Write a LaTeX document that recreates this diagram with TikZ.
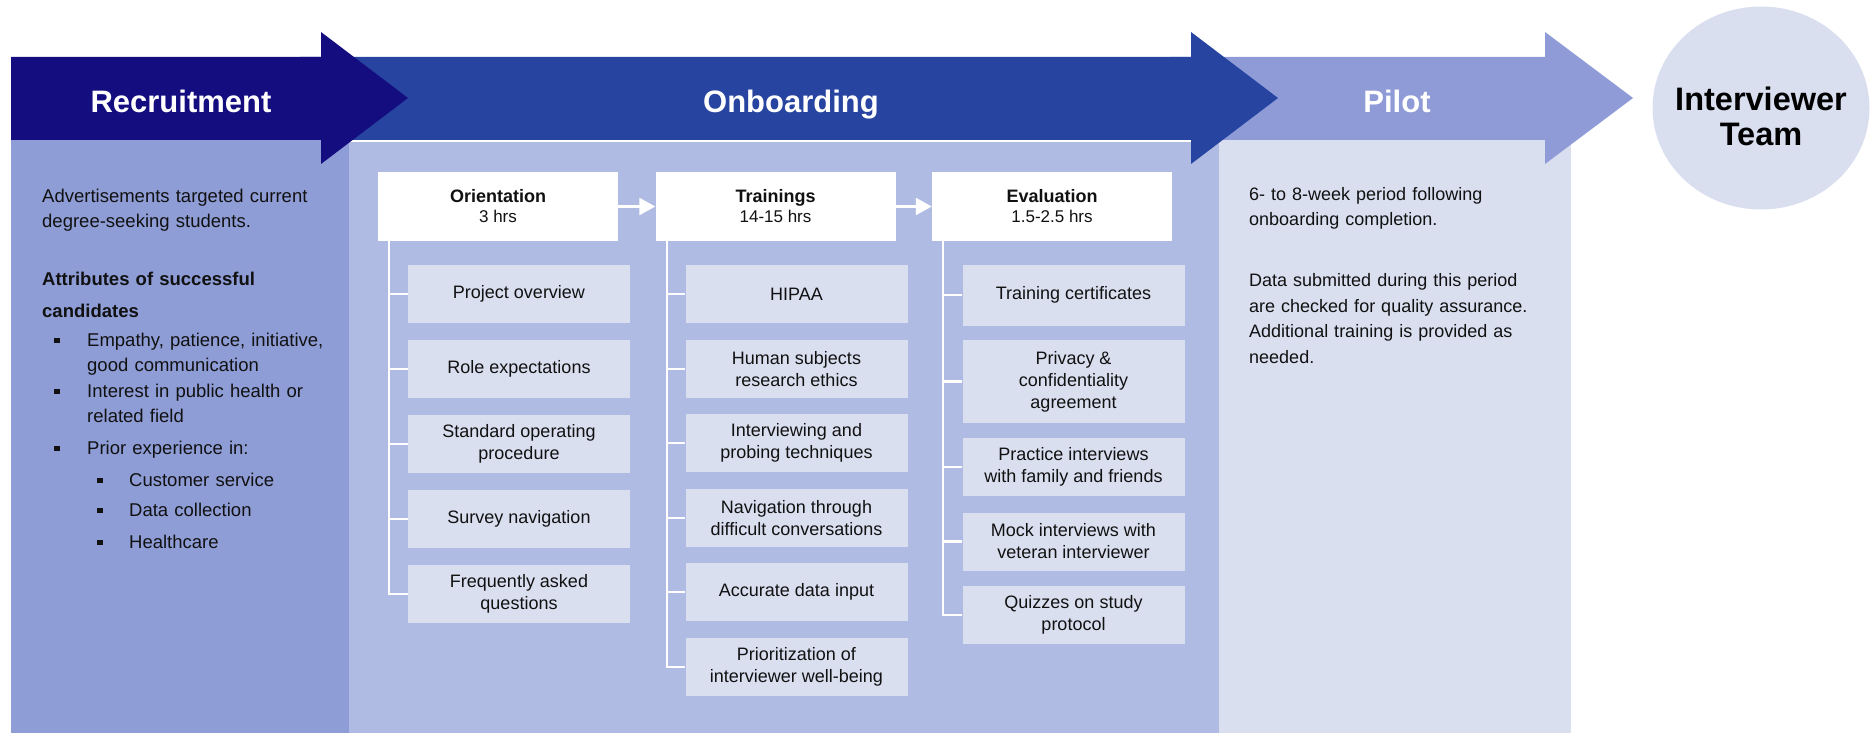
\documentclass[tikz,border=0pt]{standalone}
\usepackage{fontspec}
\setmainfont{Liberation Sans}
\usetikzlibrary{shapes.geometric,arrows.meta}
\definecolor{cRecBand}{RGB}{20,13,128}
\definecolor{cOnbBand}{RGB}{39,68,160}
\definecolor{cPilBand}{RGB}{143,155,214}
\definecolor{cRecPanel}{RGB}{143,157,215}
\definecolor{cOnbPanel}{RGB}{175,187,226}
\definecolor{cLite}{RGB}{218,223,240}
\definecolor{cText}{RGB}{17,17,17}
\newcommand{\fsz}[2]{\fontsize{#1}{#2}\selectfont}
\newcommand{\bul}{\rule[3pt]{5.5pt}{5.5pt}}
\begin{document}
\begin{tikzpicture}[x=1pt,y=-1pt,
  phase/.style={font=\fsz{31}{36}\bfseries, text=white, anchor=base, inner sep=0},
  hdr/.style={fill=white, minimum width=240pt, minimum height=69pt, inner sep=0, align=center, font=\fsz{18}{20}, text=cText},
  subbox/.style={fill=cLite, minimum width=222pt, minimum height=58pt, inner sep=0, align=center, font=\fsz{18}{22}, text=cText},
  conn/.style={draw=white, line width=2.2pt},
  harrow/.style={draw=white, line width=2.5pt, -{Triangle[length=16pt,width=17pt]}},
  body/.style={anchor=north west, inner sep=0, align=left, text=cText}
]
\useasboundingbox (0,0) rectangle (1871,733);
% panels
\fill[cRecPanel] (11,139) rectangle (349,733);
\fill[cOnbPanel] (349,142) rectangle (1219,733);
\fill[cLite] (1219,139) rectangle (1571,733);
% bands
\fill[cPilBand] (1170,57) -- (1545,57) -- (1545,32) -- (1633,98) -- (1545,164) -- (1545,140) -- (1170,140) -- cycle;
\fill[cOnbBand] (300,57) -- (1191,57) -- (1191,32) -- (1278,98) -- (1191,164) -- (1191,140) -- (300,140) -- cycle;
\fill[cRecBand] (11,57) -- (321,57) -- (321,32) -- (408,98) -- (321,164) -- (321,140) -- (11,140) -- cycle;
\node[phase] (recT) at (181,113) {Recruitment};
\node[phase] (onbT) at (791,113) {Onboarding};
\node[phase] (pilT) at (1397,113) {Pilot};
% team
\node[ellipse, fill=cLite, minimum width=217pt, minimum height=203pt, inner sep=0] (team) at (1761,108) {};
\node[font=\fsz{32.5}{35}\bfseries, text=black, align=center, inner sep=0] (teamT) at ([yshift=-8pt]team.center) {Interviewer\\Team};
% headers
\node[hdr] (ori) at (498,206.5) {{\bfseries Orientation}\\{\fsz{17}{20}3 hrs}};
\node[hdr] (tra) at (775.5,206.5) {{\bfseries Trainings}\\{\fsz{17}{20}14-15 hrs}};
\node[hdr] (eva) at (1052,206.5) {{\bfseries Evaluation}\\{\fsz{17}{20}1.5-2.5 hrs}};
\draw[harrow] (ori.east) -- (tra.west);
\draw[harrow] (tra.east) -- (eva.west);
% orientation items
\node[subbox] (o1) at (519,294) {Project overview};
\node[subbox] (o2) at (519,369) {Role expectations};
\node[subbox] (o3) at (519,444) {Standard operating\\procedure};
\node[subbox] (o4) at (519,519) {Survey navigation};
\node[subbox] (o5) at (519,594) {Frequently asked\\questions};
% trainings items
\node[subbox] (t1) at (796.5,294) {HIPAA};
\node[subbox] (t2) at (796.5,369) {Human subjects\\research ethics};
\node[subbox] (t3) at (796.5,443) {Interviewing and\\probing techniques};
\node[subbox] (t4) at (796.5,518) {Navigation through\\difficult conversations};
\node[subbox] (t5) at (796.5,592) {Accurate data input};
\node[subbox] (t6) at (796.5,667) {Prioritization of\\interviewer well-being};
% evaluation items
\node[subbox, minimum height=61pt] (e1) at (1073.5,295) {Training certificates};
\node[subbox, minimum height=83pt] (e2) at (1073.5,381.5) {Privacy \&\\confidentiality\\agreement};
\node[subbox] (e3) at (1073.5,467) {Practice interviews\\with family and friends};
\node[subbox] (e4) at (1073.5,541.5) {Mock interviews with\\veteran interviewer};
\node[subbox] (e5) at (1073.5,615) {Quizzes on study\\protocol};
% connectors
\foreach \c in {o1,o2,o3,o4,o5} \draw[conn] ([xshift=11pt]ori.south west) |- (\c.west);
\foreach \c in {t1,t2,t3,t4,t5,t6} \draw[conn] ([xshift=12pt]tra.south west) |- (\c.west);
\foreach \c in {e1,e2,e3,e4,e5} \draw[conn] ([xshift=11pt]eva.south west) |- (\c.west);
% recruitment text
\node[body, text width=310pt, font=\fsz{18.5}{25}] (recTxt) at (42,184.5) {%
\strut Advertisements targeted current\\
degree-seeking students.\\[33pt]
\textbf{Attributes of successful}\\[7pt]
\textbf{candidates}\\[4pt]
\makebox[45pt][l]{\hspace*{12pt}\bul}Empathy, patience, initiative,\\
\hspace*{45pt}good communication\\[1pt]
\makebox[45pt][l]{\hspace*{12pt}\bul}Interest in public health or\\
\hspace*{45pt}related field\\[7pt]
\makebox[45pt][l]{\hspace*{12pt}\bul}Prior experience in:\\[7pt]
\makebox[87pt][l]{\hspace*{55pt}\bul}Customer service\\[5pt]
\makebox[87pt][l]{\hspace*{55pt}\bul}Data collection\\[7pt]
\makebox[87pt][l]{\hspace*{55pt}\bul}Healthcare};
% pilot text
\node[body, text width=330pt, font=\fsz{18}{25.5}] (pilTxt) at (1249,182) {%
\strut 6- to 8-week period following\\
onboarding completion.\\[35.5pt]
Data submitted during this period\\
are checked for quality assurance.\\
Additional training is provided as\\
needed.};
\end{tikzpicture}
\end{document}
